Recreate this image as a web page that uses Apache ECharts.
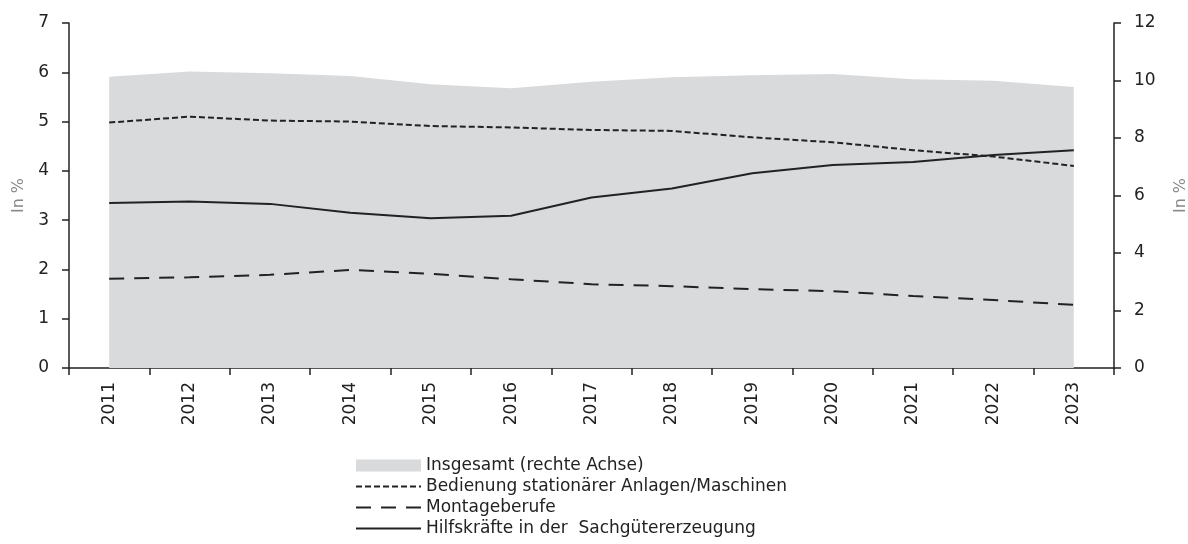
<!DOCTYPE html>
<html>
<head>
<meta charset="utf-8">
<script src="https://cdn.jsdelivr.net/npm/echarts@6/dist/echarts.min.js"></script>
<style>
  html, body { margin: 0; padding: 0; background: #fff; }
  #chart { width: 1188px; height: 544px; }
</style>
</head>
<body>
<div id="chart"></div>
<script>
// Daten
var jahre = ['2011','2012','2013','2014','2015','2016','2017','2018','2019','2020','2021','2022','2023'];
var insgesamt = [10.13, 10.31, 10.25, 10.16, 9.87, 9.73, 9.96, 10.11, 10.18, 10.23, 10.04, 9.99, 9.77];
var bedienung = [4.98, 5.10, 5.02, 5.00, 4.91, 4.88, 4.83, 4.81, 4.68, 4.58, 4.42, 4.29, 4.10];
var montage = [1.81, 1.84, 1.89, 1.99, 1.91, 1.80, 1.70, 1.66, 1.60, 1.56, 1.46, 1.38, 1.28];
var hilfskraefte = [3.35, 3.38, 3.33, 3.15, 3.04, 3.09, 3.46, 3.64, 3.95, 4.12, 4.18, 4.32, 4.42];
var namen = ['Insgesamt (rechte Achse)', 'Bedienung stationärer Anlagen/Maschinen', 'Montageberufe', 'Hilfskräfte in der  Sachgütererzeugung'];

var schrift = 'DejaVu Sans';
var achsenFarbe = '#222';

var myChart = echarts.init(document.getElementById('chart'));

var option = {
    animation: false,
    textStyle: { fontFamily: schrift },
    grid: {
        left: 69,
        right: 74,
        top: 23,
        bottom: 176,
        containLabel: false,
        outerBoundsMode: 'none'
    },
    legend: {
        orient: 'vertical',
        left: 355,
        top: 457,
        height: 87,
        padding: 0,
        itemWidth: 65,
        itemHeight: 12,
        itemGap: 4,
        itemStyle: { opacity: 0 },   // keine Kreise im Legendensymbol
        textStyle: { fontSize: 17, color: '#222', fontFamily: schrift, lineHeight: 17 },
        data: [
            { name: namen[0], icon: 'rect', itemStyle: { opacity: 1, color: '#d9dadc' } },
            { name: namen[1] },
            { name: namen[2] },
            { name: namen[3] }
        ]
    },
    xAxis: {
        type: 'category',
        data: jahre,
        boundaryGap: true,
        axisLine: { lineStyle: { color: achsenFarbe, width: 1.5 } },
        axisTick: { show: true, length: 7, lineStyle: { color: achsenFarbe, width: 1.5 } },
        axisLabel: { rotate: 90, margin: 14, fontSize: 17, color: '#222', fontFamily: schrift }
    },
    yAxis: [
        {
            type: 'value',
            min: 0, max: 7, interval: 1,
            name: 'In %',
            nameLocation: 'middle',
            nameGap: 40,
            nameTextStyle: { fontSize: 16, color: '#888', fontFamily: schrift },
            splitLine: { show: false },
            axisLine: { show: true, lineStyle: { color: achsenFarbe, width: 1.5 } },
            axisTick: { show: true, length: 7, lineStyle: { color: achsenFarbe, width: 1.5 } },
            axisLabel: { margin: 20, fontSize: 17, color: '#222', fontFamily: schrift }
        },
        {
            type: 'value',
            min: 0, max: 12, interval: 2,
            position: 'right',
            name: 'In %',
            nameLocation: 'middle',
            nameGap: 59,
            nameTextStyle: { fontSize: 16, color: '#888', fontFamily: schrift },
            splitLine: { show: false },
            axisLine: { show: true, lineStyle: { color: achsenFarbe, width: 1.5 } },
            axisTick: { show: true, length: 7, lineStyle: { color: achsenFarbe, width: 1.5 } },
            axisLabel: { margin: 20, fontSize: 17, color: '#222', fontFamily: schrift }
        }
    ],
    series: [
        {
            name: namen[0],
            type: 'line',
            yAxisIndex: 1,
            symbol: 'none',
            itemStyle: { color: '#d9dadc' },
            lineStyle: { width: 0, color: '#d9dadc' },
            areaStyle: { color: '#d9dadc', opacity: 1 },
            z: 1,
            data: insgesamt
        },
        {
            name: namen[1],
            type: 'line',
            symbol: 'none',
            itemStyle: { color: '#222' },
            lineStyle: { width: 2, color: '#222', type: [6, 3] },
            z: 3,
            data: bedienung
        },
        {
            name: namen[2],
            type: 'line',
            symbol: 'none',
            itemStyle: { color: '#222' },
            lineStyle: { width: 2, color: '#222', type: [15, 10] },
            z: 3,
            data: montage
        },
        {
            name: namen[3],
            type: 'line',
            symbol: 'none',
            itemStyle: { color: '#222' },
            lineStyle: { width: 2, color: '#222', type: 'solid' },
            z: 3,
            data: hilfskraefte
        }
    ]
};

myChart.setOption(option);
</script>
</body>
</html>
